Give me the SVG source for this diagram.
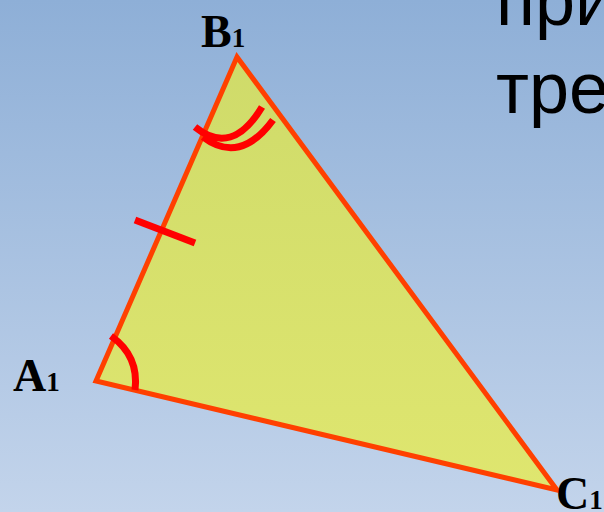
<svg xmlns="http://www.w3.org/2000/svg" width="604" height="512" viewBox="0 0 604 512">
<defs>
<linearGradient id="bg" x1="0" y1="0" x2="0" y2="1">
<stop offset="0" stop-color="#8eafd7"/>
<stop offset="1" stop-color="#c3d4eb"/>
</linearGradient>
<linearGradient id="tri" x1="0" y1="0" x2="0" y2="1">
<stop offset="0" stop-color="#cfdb6a"/>
<stop offset="1" stop-color="#dfe66f"/>
</linearGradient>
</defs>
<style>
.lbl{font-family:"Liberation Serif","Times New Roman",serif;font-weight:bold;fill:#000}
.big{font-size:46px}
.sub{font-size:27px}
.mark{fill:none;stroke:#ff0000;stroke-width:7;stroke-linecap:butt}
.txt{font-family:"Liberation Sans",Arial,sans-serif;font-size:72px;fill:#000}
</style>
<rect width="604" height="512" fill="url(#bg)"/>
<g id="heading">
<text class="txt" x="496" y="25">при</text>
<text class="txt" x="496" y="113">тре</text>
</g>
<g id="triangle">
<polygon points="96,381 237,57 557,490" fill="url(#tri)" stroke="#ff4000" stroke-width="5" stroke-linejoin="miter"/>
</g>
<g id="marks">
<path class="mark" d="M111,336 C128,348 138,366 135,390"/>
<path class="mark" d="M195,127 Q232,157 262,107"/>
<path class="mark" d="M203,137 Q240,165 273,120"/>
<path class="mark" d="M135,220 L195,243"/>
</g>
<g id="label-B1"><text class="lbl" x="201" y="47"><tspan class="big">B</tspan><tspan class="sub">1</tspan></text></g>
<g id="label-A1"><text class="lbl" x="13" y="391"><tspan class="big">A</tspan><tspan class="sub">1</tspan></text></g>
<g id="label-C1"><text class="lbl" x="556" y="509"><tspan class="big">C</tspan><tspan class="sub">1</tspan></text></g>
</svg>
